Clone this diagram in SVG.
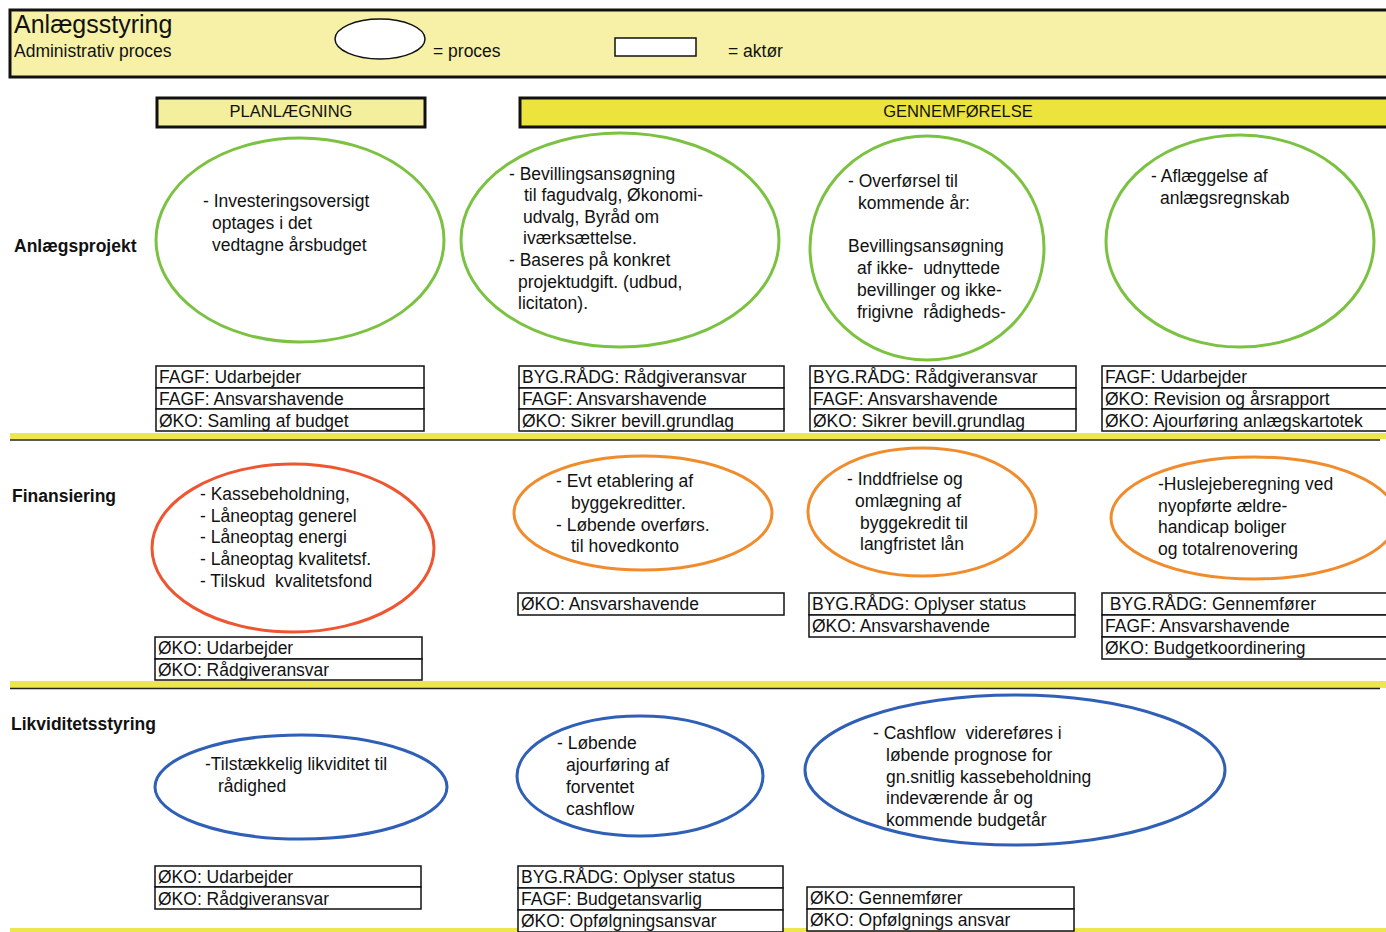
<svg xmlns="http://www.w3.org/2000/svg" width="1386" height="932" viewBox="0 0 1386 932">
<style>
text{font-family:"Liberation Sans",Arial,sans-serif;fill:#111;}
.t{font-size:17.5px;}
.b{font-size:17.5px;}
.h{font-size:17.5px;}
.lbl{font-size:17.5px;font-weight:bold;}
.g{fill:#fff;stroke:#7cc242;stroke-width:3;}
.r{fill:#fff;stroke:#ee5530;stroke-width:3;}
.o{fill:#fff;stroke:#f08c2c;stroke-width:3;}
.bl{fill:#fff;stroke:#2f5fb6;stroke-width:3;}
.box{fill:#fff;stroke:#111;stroke-width:1.5;}
.sep{fill:#ede64c;}
.sl{stroke:#222;stroke-width:1.5;}
</style>
<rect width="1386" height="932" fill="#fff"/>
<g id="header">
<rect x="10" y="10" width="1390" height="67" fill="#f6f1a6" stroke="#111" stroke-width="3"/>
<text x="14" y="33" style="font-size:25px">Anlægsstyring</text>
<text class="h" x="14" y="57">Administrativ proces</text>
<ellipse cx="380" cy="39" rx="45" ry="20" fill="#fff" stroke="#111" stroke-width="1.5"/>
<text class="h" x="433" y="57">= proces</text>
<rect x="615" y="38" width="81" height="18" fill="#fff" stroke="#111" stroke-width="1.5"/>
<text class="h" x="728" y="57">= aktør</text>
</g>
<g id="phase-plan">
<rect x="157" y="98" width="268" height="29" fill="#f4ef9c" stroke="#111" stroke-width="3"/>
<text x="291" y="117" text-anchor="middle" style="font-size:16.5px">PLANLÆGNING</text>
</g>
<g id="phase-gennem">
<rect x="520" y="98" width="880" height="29" fill="#ece43c" stroke="#111" stroke-width="3"/>
<text x="958" y="117" text-anchor="middle" style="font-size:16.5px">GENNEMFØRELSE</text>
</g>
<g id="row-labels">
<text class="lbl" x="14" y="252">Anlægsprojekt</text>
<text class="lbl" x="12" y="502">Finansiering</text>
<text class="lbl" x="11" y="730">Likviditetsstyring</text>
</g>
<g id="separators">
<rect class="sep" x="10" y="433" width="1376" height="6"/>
<line class="sl" x1="10" y1="440" x2="1380" y2="440"/>
<rect class="sep" x="10" y="681" width="1376" height="7"/>
<line class="sl" x1="10" y1="688.5" x2="1380" y2="688.5"/>
<rect class="sep" x="10" y="928" width="1376" height="4"/>
</g>
<g id="connectors"></g>
<!-- Row 1 -->
<g id="p-a1">
<ellipse class="g" cx="300" cy="240" rx="144" ry="102"/>
<text class="t" x="203" y="207">- Investeringsoversigt</text>
<text class="t" x="212" y="229">optages i det</text>
<text class="t" x="212" y="251">vedtagne årsbudget</text>
</g>
<g id="p-a2">
<ellipse class="g" cx="620" cy="240" rx="159" ry="107"/>
<text class="t" x="509" y="180">- Bevillingsansøgning</text>
<text class="t" x="524" y="201">til fagudvalg, Økonomi-</text>
<text class="t" x="523" y="223">udvalg, Byråd om</text>
<text class="t" x="523" y="244">iværksættelse.</text>
<text class="t" x="509" y="266">- Baseres på konkret</text>
<text class="t" x="518" y="288">projektudgift. (udbud,</text>
<text class="t" x="518" y="309">licitaton).</text>
</g>
<g id="p-a3">
<ellipse class="g" cx="927" cy="248" rx="117" ry="112"/>
<text class="t" x="848" y="187">- Overførsel til</text>
<text class="t" x="858" y="209">kommende år:</text>
<text class="t" x="848" y="252">Bevillingsansøgning</text>
<text class="t" x="857" y="274" xml:space="preserve">af ikke-  udnyttede</text>
<text class="t" x="857" y="296">bevillinger og ikke-</text>
<text class="t" x="857" y="318" xml:space="preserve">frigivne  rådigheds-</text>
</g>
<g id="p-a4">
<ellipse class="g" cx="1240" cy="241" rx="134" ry="106"/>
<text class="t" x="1151" y="182">- Aflæggelse af</text>
<text class="t" x="1160" y="204">anlægsregnskab</text>
</g>
<g id="a-a1">
<rect class="box" x="156" y="366" width="268" height="22"/>
<rect class="box" x="156" y="388" width="268" height="21"/>
<rect class="box" x="156" y="409" width="268" height="22"/>
<text class="b" x="159" y="383">FAGF: Udarbejder</text>
<text class="b" x="159" y="405">FAGF: Ansvarshavende</text>
<text class="b" x="159" y="427">ØKO: Samling af budget</text>
</g>
<g id="a-a2">
<rect class="box" x="519" y="366" width="265" height="22"/>
<rect class="box" x="519" y="388" width="265" height="21"/>
<rect class="box" x="519" y="409" width="265" height="22"/>
<text class="b" x="522" y="383">BYG.RÅDG: Rådgiveransvar</text>
<text class="b" x="522" y="405">FAGF: Ansvarshavende</text>
<text class="b" x="522" y="427">ØKO: Sikrer bevill.grundlag</text>
</g>
<g id="a-a3">
<rect class="box" x="810" y="366" width="266" height="22"/>
<rect class="box" x="810" y="388" width="266" height="21"/>
<rect class="box" x="810" y="409" width="266" height="22"/>
<text class="b" x="813" y="383">BYG.RÅDG: Rådgiveransvar</text>
<text class="b" x="813" y="405">FAGF: Ansvarshavende</text>
<text class="b" x="813" y="427">ØKO: Sikrer bevill.grundlag</text>
</g>
<g id="a-a4">
<rect class="box" x="1102" y="366" width="300" height="22"/>
<rect class="box" x="1102" y="388" width="300" height="21"/>
<rect class="box" x="1102" y="409" width="300" height="22"/>
<text class="b" x="1105" y="383">FAGF: Udarbejder</text>
<text class="b" x="1105" y="405">ØKO: Revision og årsrapport</text>
<text class="b" x="1105" y="427">ØKO: Ajourføring anlægskartotek</text>
</g>
<!-- Row 2 -->
<g id="p-f1">
<ellipse class="r" cx="293" cy="548" rx="141" ry="84"/>
<text class="t" x="200" y="500">- Kassebeholdning,</text>
<text class="t" x="200" y="522">- Låneoptag generel</text>
<text class="t" x="200" y="543">- Låneoptag energi</text>
<text class="t" x="200" y="565">- Låneoptag kvalitetsf.</text>
<text class="t" x="200" y="587" xml:space="preserve">- Tilskud  kvalitetsfond</text>
</g>
<g id="p-f2">
<ellipse class="o" cx="643" cy="513" rx="129" ry="57"/>
<text class="t" x="556" y="487">- Evt etablering af</text>
<text class="t" x="571" y="509">byggekreditter.</text>
<text class="t" x="556" y="531">- Løbende overførs.</text>
<text class="t" x="571" y="552">til hovedkonto</text>
</g>
<g id="p-f3">
<ellipse class="o" cx="922" cy="512" rx="114" ry="64"/>
<text class="t" x="847" y="485">- Inddfrielse og</text>
<text class="t" x="855" y="507">omlægning af</text>
<text class="t" x="860" y="529">byggekredit til</text>
<text class="t" x="860" y="550">langfristet lån</text>
</g>
<g id="p-f4">
<ellipse class="o" cx="1254" cy="518" rx="143" ry="61"/>
<text class="t" x="1158" y="490">-Huslejeberegning ved</text>
<text class="t" x="1158" y="512">nyopførte ældre-</text>
<text class="t" x="1158" y="533">handicap boliger</text>
<text class="t" x="1158" y="555">og totalrenovering</text>
</g>
<g id="a-f1">
<rect class="box" x="155" y="637" width="267" height="22"/>
<rect class="box" x="155" y="659" width="267" height="21"/>
<text class="b" x="158" y="654">ØKO: Udarbejder</text>
<text class="b" x="158" y="676">ØKO: Rådgiveransvar</text>
</g>
<g id="a-f2">
<rect class="box" x="518" y="593" width="266" height="22"/>
<text class="b" x="521" y="610">ØKO: Ansvarshavende</text>
</g>
<g id="a-f3">
<rect class="box" x="809" y="593" width="266" height="22"/>
<rect class="box" x="809" y="615" width="266" height="22"/>
<text class="b" x="812" y="610">BYG.RÅDG: Oplyser status</text>
<text class="b" x="812" y="632">ØKO: Ansvarshavende</text>
</g>
<g id="a-f4">
<rect class="box" x="1102" y="593" width="300" height="22"/>
<rect class="box" x="1102" y="615" width="300" height="22"/>
<rect class="box" x="1102" y="637" width="300" height="22"/>
<text class="b" x="1105" y="610" xml:space="preserve"> BYG.RÅDG: Gennemfører</text>
<text class="b" x="1105" y="632">FAGF: Ansvarshavende</text>
<text class="b" x="1105" y="654">ØKO: Budgetkoordinering</text>
</g>
<!-- Row 3 -->
<g id="p-l1">
<ellipse class="bl" cx="301" cy="787" rx="146" ry="52"/>
<text class="t" x="205" y="770">-Tilstækkelig likviditet til</text>
<text class="t" x="218" y="792">rådighed</text>
</g>
<g id="p-l2">
<ellipse class="bl" cx="640" cy="776" rx="123" ry="60"/>
<text class="t" x="557" y="749">- Løbende</text>
<text class="t" x="566" y="771">ajourføring af</text>
<text class="t" x="566" y="793">forventet</text>
<text class="t" x="566" y="815">cashflow</text>
</g>
<g id="p-l3">
<ellipse class="bl" cx="1015" cy="770" rx="210" ry="75"/>
<text class="t" x="873" y="739" xml:space="preserve">- Cashflow  videreføres i</text>
<text class="t" x="886" y="761">løbende prognose for</text>
<text class="t" x="886" y="783">gn.snitlig kassebeholdning</text>
<text class="t" x="886" y="804">indeværende år og</text>
<text class="t" x="886" y="826">kommende budgetår</text>
</g>
<g id="a-l1">
<rect class="box" x="155" y="866" width="266" height="21"/>
<rect class="box" x="155" y="887" width="266" height="22"/>
<text class="b" x="158" y="883">ØKO: Udarbejder</text>
<text class="b" x="158" y="905">ØKO: Rådgiveransvar</text>
</g>
<g id="a-l2">
<rect class="box" x="518" y="866" width="265" height="22"/>
<rect class="box" x="518" y="888" width="265" height="22"/>
<rect class="box" x="518" y="910" width="265" height="22"/>
<text class="b" x="521" y="883">BYG.RÅDG: Oplyser status</text>
<text class="b" x="521" y="905">FAGF: Budgetansvarlig</text>
<text class="b" x="521" y="927">ØKO: Opfølgningsansvar</text>
</g>
<g id="a-l3">
<rect class="box" x="807" y="887" width="267" height="22"/>
<rect class="box" x="807" y="909" width="267" height="22"/>
<text class="b" x="810" y="904">ØKO: Gennemfører</text>
<text class="b" x="810" y="926">ØKO: Opfølgnings ansvar</text>
</g>
</svg>
